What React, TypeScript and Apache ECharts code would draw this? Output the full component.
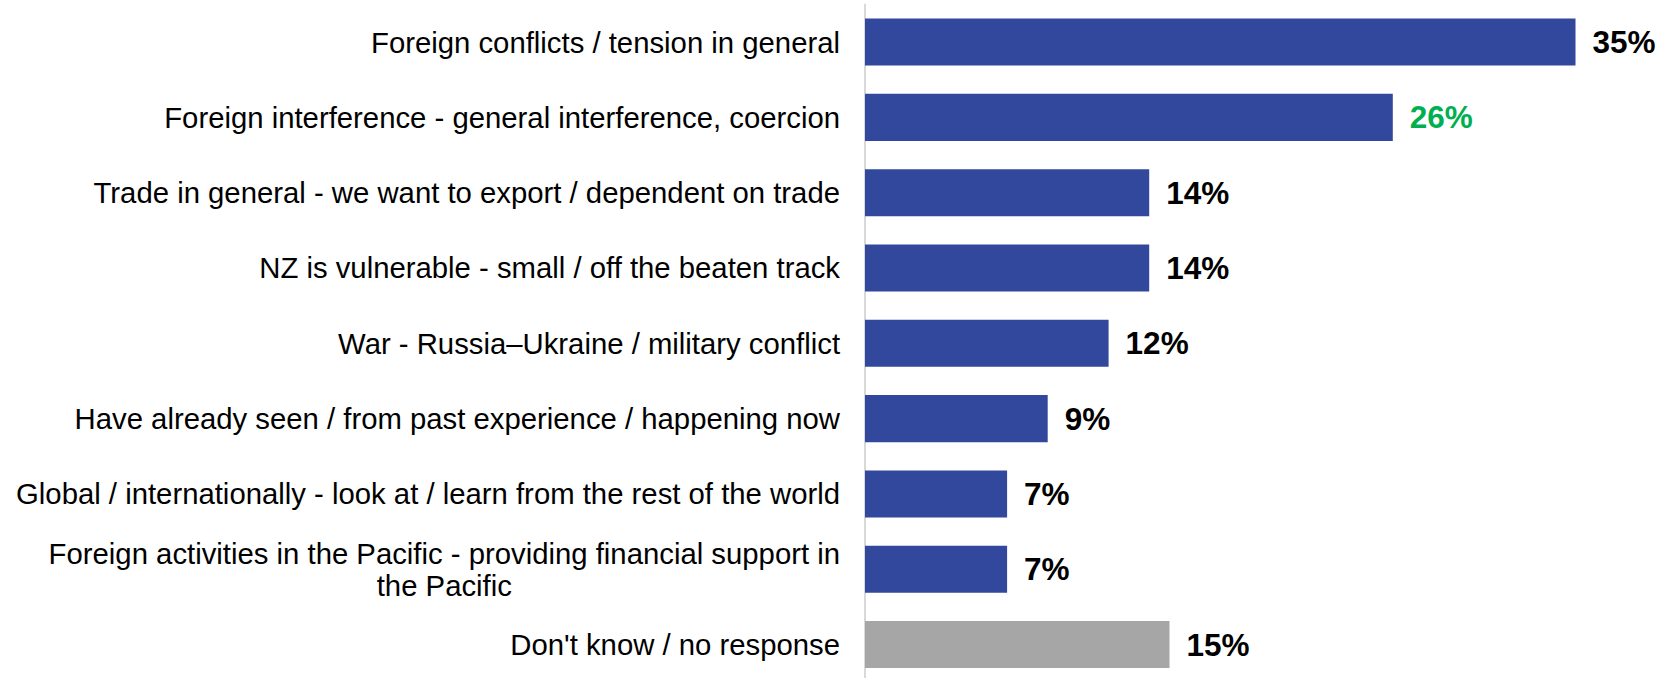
import React, { useEffect, useRef } from "react";
import * as echarts from "echarts";

const categories: string[] = [
  "Foreign conflicts / tension in general",
  "Foreign interference - general interference, coercion",
  "Trade in general - we want to export / dependent on trade",
  "NZ is vulnerable - small / off the beaten track",
  "War - Russia\u2013Ukraine / military conflict",
  "Have already seen / from past experience / happening now",
  "Global / internationally - look at / learn from the rest of the world",
  "Foreign activities in the Pacific - providing financial support in\nthe Pacific",
  "Don't know / no response",
];
const values: number[] = [35, 26, 14, 14, 12, 9, 7, 7, 15];
const barColors: string[] = [
  "#31489C", "#31489C", "#31489C", "#31489C", "#31489C",
  "#31489C", "#31489C", "#31489C", "#A6A6A6",
];
const labelColors: string[] = [
  "#000000", "#00B050", "#000000", "#000000", "#000000",
  "#000000", "#000000", "#000000", "#000000",
];

const FONT = "'Liberation Sans', Arial, sans-serif";
const CAT_SIZE = 29.3;
const VAL_SIZE = 31.5;
const X_MAX = 40;
const PX_PER_UNIT = 20.3;

export default function App() {
  const ref = useRef<HTMLDivElement>(null);
  useEffect(() => {
    if (!ref.current) return;
    const chart = echarts.init(ref.current, null, { renderer: "svg" });
    chart.setOption({
      animation: false,
      backgroundColor: "#FFFFFF",
      grid: {
        left: 865,
        top: 4.4,
        width: X_MAX * PX_PER_UNIT,
        height: 677.8,
        containLabel: false,
        outerBoundsMode: "none",
      },
      xAxis: { type: "value", min: 0, max: X_MAX, show: false },
      yAxis: {
        type: "category",
        inverse: true,
        data: categories,
        axisLine: { show: true, lineStyle: { color: "#D9D9D9", width: 2 } },
        axisTick: { show: false },
        splitLine: { show: false },
        axisLabel: {
          margin: 25,
          fontSize: CAT_SIZE,
          fontFamily: FONT,
          color: "#000000",
          lineHeight: 32,
          formatter: (v: string) =>
            v
              .split("\n")
              .map((s) => "{c|" + s + "}")
              .join("\n"),
          rich: {
            c: {
              align: "center",
              fontSize: CAT_SIZE,
              fontFamily: FONT,
              color: "#000000",
              lineHeight: 32,
            },
          },
        },
      },
      series: [
        {
          type: "bar",
          barCategoryGap: "37.5%",
          data: values.map((v, i) => ({
            value: v,
            itemStyle: { color: barColors[i] },
            label: { color: labelColors[i] },
          })),
          label: {
            show: true,
            position: "right",
            distance: 17,
            formatter: "{c}%",
            fontSize: VAL_SIZE,
            fontWeight: "bold",
            fontFamily: FONT,
          },
        },
      ],
    });
    return () => chart.dispose();
  }, []);
  return (
    <div
      ref={ref}
      style={{ position: "fixed", left: 0, top: 0, width: 1662, height: 678, background: "#fff" }}
    />
  );
}
